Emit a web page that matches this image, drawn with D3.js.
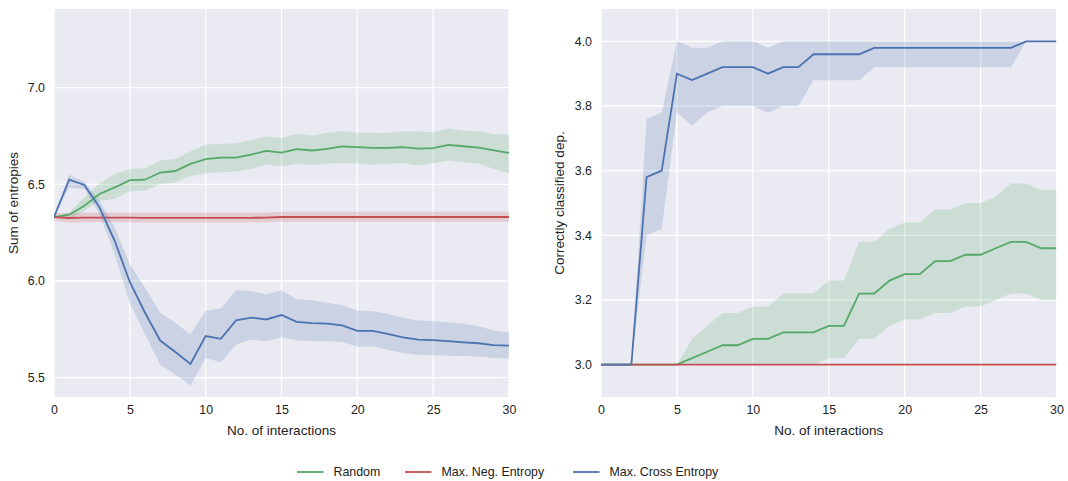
<!DOCTYPE html>
<html>
<head>
<meta charset="utf-8">
<script src="https://cdn.jsdelivr.net/npm/d3@7"></script>
<style>
  body { margin: 0; background: #fff; }
  svg { font-family: "Liberation Sans", Arial, sans-serif; }
</style>
</head>
<body>
<svg id="chart" width="1068" height="481"></svg>
<script>
// interactions 0..30
const interactions = d3.range(0, 31);

// left panel: sum of entropies
const entRandom = [6.33, 6.343, 6.389, 6.45, 6.484, 6.522, 6.524, 6.561, 6.569, 6.606, 6.63,
  6.638, 6.638, 6.654, 6.673, 6.664, 6.682, 6.675, 6.683, 6.696, 6.692,
  6.689, 6.689, 6.692, 6.685, 6.687, 6.704, 6.697, 6.69, 6.676, 6.663];
const entRandomHi = [6.33, 6.355, 6.433, 6.505, 6.554, 6.58, 6.585, 6.623, 6.631, 6.671, 6.706,
  6.709, 6.713, 6.73, 6.747, 6.74, 6.761, 6.753, 6.765, 6.775, 6.768,
  6.766, 6.766, 6.773, 6.773, 6.77, 6.789, 6.779, 6.775, 6.761, 6.756];
const entRandomLo = [6.33, 6.32, 6.363, 6.415, 6.424, 6.464, 6.467, 6.502, 6.51, 6.545, 6.557,
  6.562, 6.567, 6.58, 6.602, 6.593, 6.606, 6.6, 6.606, 6.612, 6.606,
  6.602, 6.607, 6.611, 6.597, 6.609, 6.623, 6.614, 6.606, 6.58, 6.557];

const entNeg = [6.33, 6.326, 6.328, 6.328, 6.328, 6.328, 6.327, 6.327, 6.327, 6.327, 6.327,
  6.327, 6.327, 6.327, 6.328, 6.331, 6.331, 6.331, 6.331, 6.331, 6.331,
  6.331, 6.331, 6.331, 6.331, 6.331, 6.331, 6.331, 6.331, 6.331, 6.331];
const entNegHi = [6.35, 6.352, 6.354, 6.354, 6.354, 6.354, 6.353, 6.353, 6.353, 6.353, 6.353,
  6.353, 6.353, 6.353, 6.354, 6.358, 6.358, 6.358, 6.358, 6.358, 6.358,
  6.358, 6.358, 6.358, 6.358, 6.358, 6.358, 6.358, 6.358, 6.358, 6.358];
const entNegLo = [6.31, 6.302, 6.304, 6.304, 6.304, 6.304, 6.303, 6.303, 6.303, 6.303, 6.303,
  6.303, 6.303, 6.303, 6.304, 6.306, 6.306, 6.306, 6.306, 6.306, 6.306,
  6.306, 6.306, 6.306, 6.306, 6.306, 6.306, 6.306, 6.306, 6.306, 6.306];

const entCross = [6.33, 6.524, 6.497, 6.381, 6.208, 5.995, 5.836, 5.692, 5.633, 5.571, 5.715,
  5.701, 5.796, 5.811, 5.801, 5.824, 5.789, 5.782, 5.78, 5.77, 5.742,
  5.742, 5.727, 5.708, 5.697, 5.694, 5.689, 5.683, 5.678, 5.668, 5.666];
const entCrossHi = [6.33, 6.55, 6.514, 6.415, 6.277, 6.087, 5.965, 5.836, 5.784, 5.723, 5.848,
  5.858, 5.952, 5.948, 5.931, 5.952, 5.905, 5.9, 5.888, 5.874, 5.848,
  5.844, 5.83, 5.81, 5.796, 5.792, 5.787, 5.779, 5.766, 5.744, 5.735];
const entCrossLo = [6.33, 6.484, 6.476, 6.346, 6.138, 5.888, 5.723, 5.567, 5.516, 5.46, 5.602,
  5.58, 5.671, 5.697, 5.689, 5.709, 5.692, 5.689, 5.689, 5.685, 5.661,
  5.661, 5.645, 5.628, 5.619, 5.616, 5.614, 5.612, 5.609, 5.602, 5.599];

// right panel: correctly classified dependencies
const depRandom = [3, 3, 3, 3, 3, 3, 3.02, 3.04, 3.06, 3.06, 3.08,
  3.08, 3.1, 3.1, 3.1, 3.12, 3.12, 3.22, 3.22, 3.26, 3.28,
  3.28, 3.32, 3.32, 3.34, 3.34, 3.36, 3.38, 3.38, 3.36, 3.36];
const depRandomHi = [3, 3, 3, 3, 3, 3, 3.08, 3.12, 3.16, 3.16, 3.18,
  3.18, 3.22, 3.22, 3.22, 3.26, 3.26, 3.38, 3.38, 3.42, 3.44,
  3.44, 3.48, 3.48, 3.5, 3.5, 3.52, 3.56, 3.56, 3.54, 3.54];
const depRandomLo = [3, 3, 3, 3, 3, 3, 3, 3, 3, 3, 3,
  3, 3, 3, 3, 3.02, 3.02, 3.08, 3.08, 3.12, 3.14,
  3.14, 3.16, 3.16, 3.18, 3.18, 3.2, 3.22, 3.22, 3.2, 3.2];

const depNeg = interactions.map(() => 3);

const depCross = [3, 3, 3, 3.58, 3.6, 3.9, 3.88, 3.9, 3.92, 3.92, 3.92,
  3.9, 3.92, 3.92, 3.96, 3.96, 3.96, 3.96, 3.98, 3.98, 3.98,
  3.98, 3.98, 3.98, 3.98, 3.98, 3.98, 3.98, 4, 4, 4];
const depCrossHi = [3, 3, 3, 3.76, 3.78, 4, 3.98, 3.98, 4, 4, 4,
  3.98, 4, 4, 4, 4, 4, 4, 4, 4, 4,
  4, 4, 4, 4, 4, 4, 4, 4, 4, 4];
const depCrossLo = [3, 3, 3, 3.4, 3.42, 3.78, 3.74, 3.78, 3.8, 3.8, 3.8,
  3.78, 3.8, 3.8, 3.88, 3.88, 3.88, 3.88, 3.92, 3.92, 3.92,
  3.92, 3.92, 3.92, 3.92, 3.92, 3.92, 3.92, 4, 4, 4];

const seriesNames = ["Random", "Max. Neg. Entropy", "Max. Cross Entropy"];
const seriesColors = ["#55A868", "#C44E52", "#4C72B0"];
const xTicks = [0, 5, 10, 15, 20, 25, 30];
const leftTicks = [5.5, 6.0, 6.5, 7.0];
const rightTicks = [3.0, 3.2, 3.4, 3.6, 3.8, 4.0];

const svg = d3.select("#chart");
const TOP = 9, BOTTOM = 397;

function drawPanel(opts) {
  const x = d3.scaleLinear().domain([0, 30]).range([opts.left, opts.right]);
  const y = d3.scaleLinear().domain(opts.yDomain).range([BOTTOM, TOP]);
  const g = svg.append("g");

  g.append("rect")
    .attr("x", opts.left).attr("y", TOP)
    .attr("width", opts.right - opts.left).attr("height", BOTTOM - TOP)
    .attr("fill", "#EAEAF2");

  g.append("clipPath").attr("id", opts.id)
    .append("rect")
    .attr("x", opts.left).attr("y", TOP)
    .attr("width", opts.right - opts.left).attr("height", BOTTOM - TOP);

  // grid
  g.append("g").selectAll("line").data(xTicks).join("line")
    .attr("x1", d => x(d)).attr("x2", d => x(d))
    .attr("y1", TOP).attr("y2", BOTTOM)
    .attr("stroke", "#fff").attr("stroke-width", 1.3);
  g.append("g").selectAll("line").data(opts.yTicks).join("line")
    .attr("x1", opts.left).attr("x2", opts.right)
    .attr("y1", d => y(d)).attr("y2", d => y(d))
    .attr("stroke", "#fff").attr("stroke-width", 1.3);

  // axes (labels only, no ticks)
  const xAxis = g.append("g").attr("transform", "translate(0," + BOTTOM + ")")
    .call(d3.axisBottom(x).tickValues(xTicks).tickSize(0).tickPadding(8).tickFormat(d3.format("d")));
  const yAxis = g.append("g").attr("transform", "translate(" + opts.left + ",0)")
    .call(d3.axisLeft(y).tickValues(opts.yTicks).tickSize(0).tickPadding(9).tickFormat(d3.format(".1f")));
  [xAxis, yAxis].forEach(a => {
    a.select(".domain").remove();
    a.selectAll("text").attr("fill", "#222").style("font-size", "12.4px")
      .style("font-family", "'Liberation Sans', Arial, sans-serif");
  });

  g.append("text")
    .attr("x", (opts.left + opts.right) / 2).attr("y", 435)
    .attr("text-anchor", "middle").attr("fill", "#222").style("font-size", "13.5px")
    .text("No. of interactions");
  g.append("text")
    .attr("transform", "translate(" + opts.yLabelX + "," + (TOP + BOTTOM) / 2 + ") rotate(-90)")
    .attr("text-anchor", "middle").attr("fill", "#222").style("font-size", "13.5px")
    .text(opts.yLabel);

  const plot = g.append("g").attr("clip-path", "url(#" + opts.id + ")");
  const area = d3.area().x((d, i) => x(interactions[i]));
  const line = d3.line().x((d, i) => x(interactions[i])).y(d => y(d));

  opts.series.forEach((s, k) => {
    if (s.hi) {
      plot.append("path")
        .attr("d", area.y0((d, i) => y(s.lo[i])).y1((d, i) => y(s.hi[i]))(s.mean))
        .attr("fill", seriesColors[k]).attr("fill-opacity", 0.2);
    }
  });
  opts.series.forEach((s, k) => {
    plot.append("path")
      .attr("d", line(s.mean))
      .attr("fill", "none").attr("stroke", seriesColors[k]).attr("stroke-width", 1.8);
  });
}

drawPanel({
  id: "clipLeft", left: 54, right: 509, yDomain: [5.4, 7.407], yTicks: leftTicks,
  yLabel: "Sum of entropies", yLabelX: 18,
  series: [
    {mean: entRandom, hi: entRandomHi, lo: entRandomLo},
    {mean: entNeg, hi: entNegHi, lo: entNegLo},
    {mean: entCross, hi: entCrossHi, lo: entCrossLo}
  ]
});

drawPanel({
  id: "clipRight", left: 601, right: 1056.5, yDomain: [2.9, 4.1], yTicks: rightTicks,
  yLabel: "Correctly classified dep.", yLabelX: 564,
  series: [
    {mean: depRandom, hi: depRandomHi, lo: depRandomLo},
    {mean: depNeg},
    {mean: depCross, hi: depCrossHi, lo: depCrossLo}
  ]
});

// legend
const legendX = [297, 405, 573];
const legend = svg.append("g").selectAll("g").data(seriesNames).join("g")
  .attr("transform", (d, i) => "translate(" + legendX[i] + ",472)");
legend.append("line")
  .attr("x1", 0).attr("x2", 26.5)
  .attr("stroke", (d, i) => seriesColors[i]).attr("stroke-width", 1.8);
legend.append("text")
  .attr("x", 36.5).attr("dy", "0.35em")
  .attr("fill", "#222").style("font-size", "12.4px")
  .text(d => d);
</script>
</body>
</html>
